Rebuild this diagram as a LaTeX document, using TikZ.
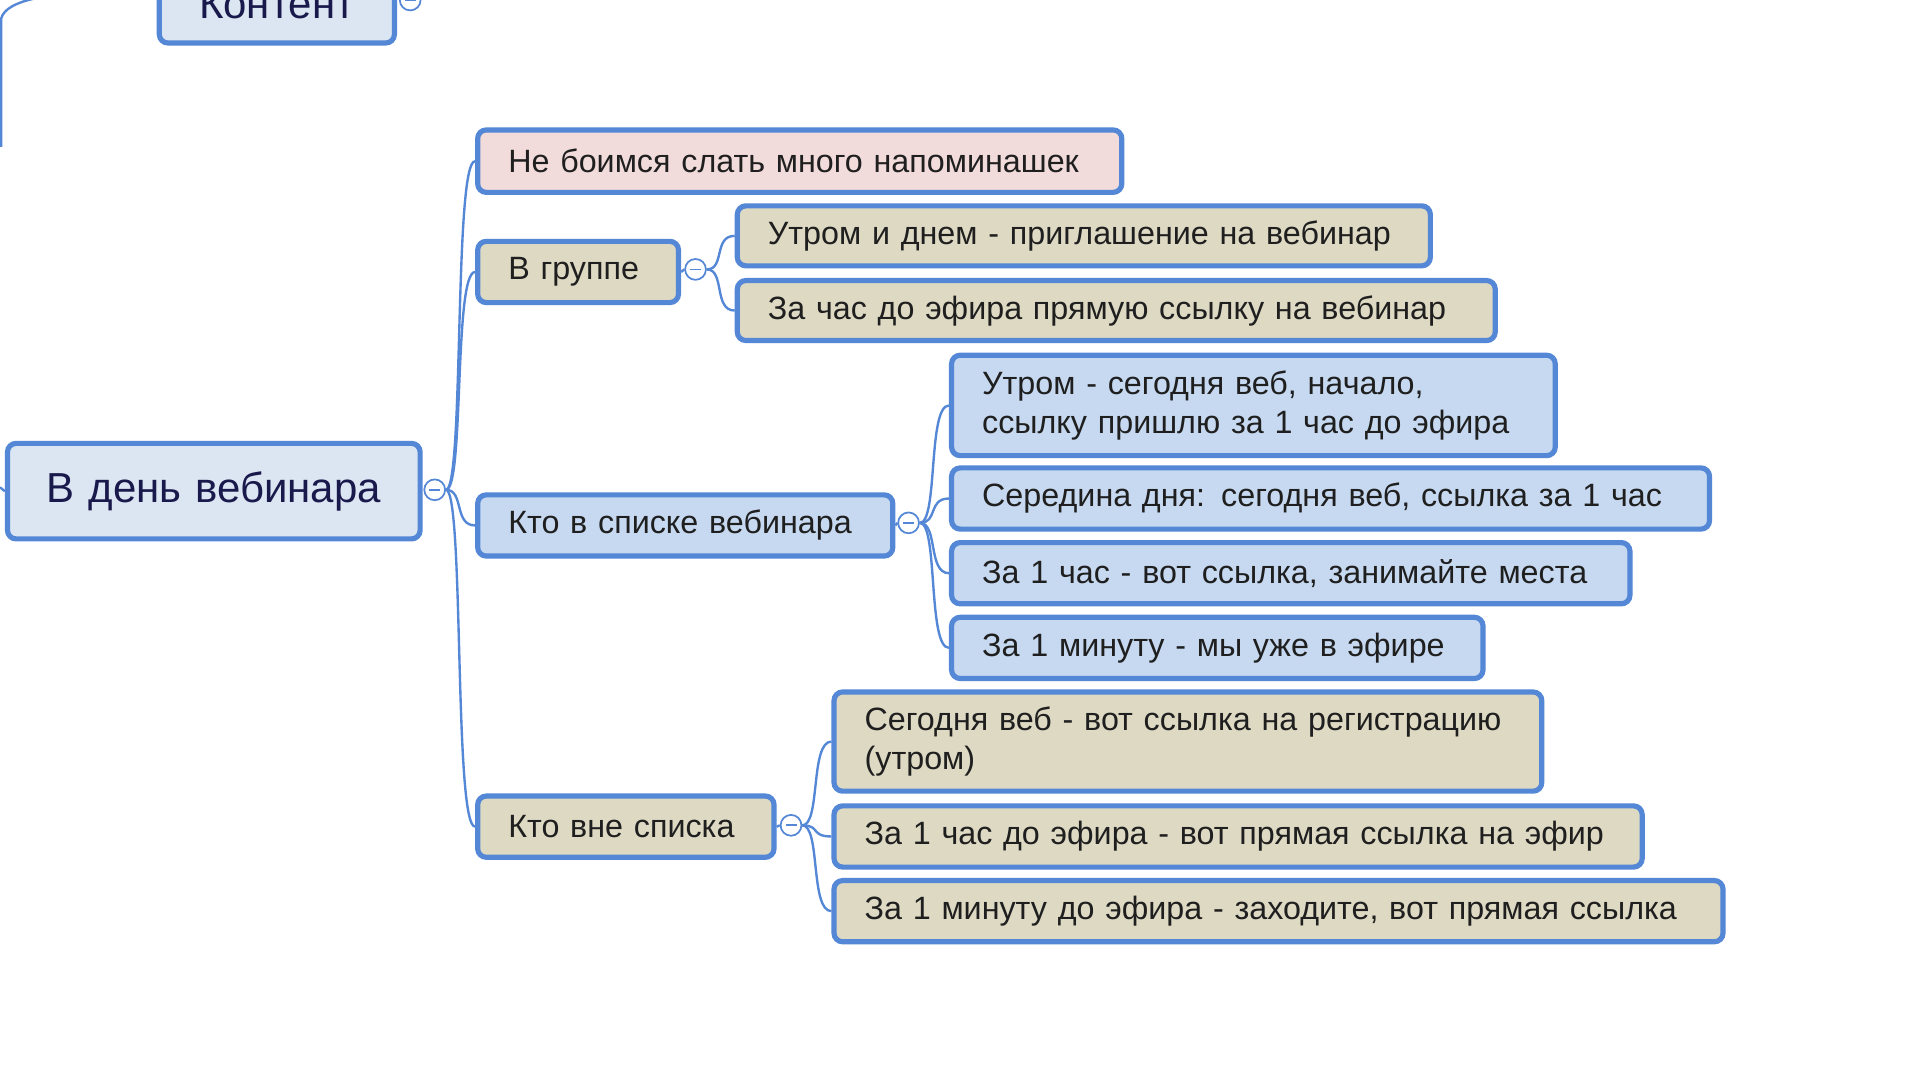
\documentclass[tikz,border=0pt]{standalone}
\usepackage{fontspec}
\setmainfont{Liberation Sans}
\definecolor{edge}{HTML}{5487D6}
\definecolor{blu}{HTML}{C6D9F0}
\definecolor{tan}{HTML}{DDD9C3}
\definecolor{pnk}{HTML}{F2DCDB}
\definecolor{rootfill}{HTML}{DCE6F2}
\definecolor{ink}{HTML}{1F1F1F}
\tikzset{
  topic/.style={draw=edge, line width=2.4pt, rounded corners=4pt, anchor=north west, text=ink,
    align=left, inner xsep=0.5cm, font=\fontsize{15}{18}\selectfont},
  bigtopic/.style={topic, align=center, inner xsep=0.1cm, text=ink!80!blue, font=\fontsize{19.5}{23}\selectfont},
  conn/.style={draw=edge, line width=1.1pt},
  fold/.style={circle, draw=edge, line width=0.8pt, fill=white, minimum size=0.34cm, inner sep=0pt,
    path picture={\draw[edge, line width=0.8pt] ([xshift=-0.09cm]path picture bounding box.center) -- ([xshift=0.09cm]path picture bounding box.center);}}
}
\begin{document}
\begin{tikzpicture}
\useasboundingbox (0,0) rectangle (31.36,-17.64);
\clip (0,0) rectangle (31.36,-17.64);
\fill[white] (0,0) rectangle (31.36,-17.64);

% upper branch, cut off
\draw[conn] (0.02,-2.4) -- (0.02,-0.3) .. controls (0.1,0) and (0.8,0.1) .. (1.4,0.1);
\node[bigtopic, fill=rootfill, minimum height=1.26cm, text width=3.64cm]
  (kontent) at (2.56,0.6) {Контент};
\node[fold] (kontentfold) at (6.7,0) {};

% root
\node[bigtopic, fill=rootfill, minimum height=1.56cm, text width=6.54cm]
  (root) at (0.08,-7.2) {В день вебинара};
\draw[conn] (0,-7.96) -- (root.west);
\node[fold] (rootfold) at (7.1,-8) {};

% first level
\node[topic, fill=pnk, minimum height=1.02cm, text width=9.52cm] (fear) at (7.76,-2.08) {Не боимся слать много напоминашек};
\node[topic, fill=tan, minimum height=1.0cm, text width=2.28cm] (group) at (7.76,-3.9) {В группе};
\node[topic, fill=blu, minimum height=1.0cm, text width=5.78cm] (inlist) at (7.76,-8.04) {Кто в списке вебинара};
\node[topic, fill=tan, minimum height=1.0cm, text width=3.84cm] (outlist) at (7.76,-12.96) {Кто вне списка};

\foreach \n in {fear,group,inlist,outlist}
  \draw[conn] (rootfold.east) .. controls ++(0.3,0) and ([xshift=-0.35cm]\n.west) .. (\n.west);

% in group
\node[fold] (groupfold) at (11.36,-4.4) {};
\node[topic, fill=tan, minimum height=0.98cm, text width=10.32cm] (morning) at (12,-3.32) {Утром и днем - приглашение на вебинар};
\node[topic, fill=tan, minimum height=0.98cm, text width=11.38cm] (hour) at (12,-4.54) {За час до эфира прямую ссылку на вебинар};
\draw[conn] (group.east) -- (groupfold.west);
\foreach \n in {morning,hour}
  \draw[conn] (groupfold.east) .. controls ++(0.3,0) and ([xshift=-0.35cm]\n.west) .. (\n.west);

% in list
\node[fold] (inlistfold) at (14.84,-8.54) {};
\node[topic, fill=blu, minimum height=1.64cm, text width=8.86cm] (lmorning) at (15.5,-5.76) {Утром - сегодня веб, начало,\\ссылку пришлю за 1 час до эфира};
\node[topic, fill=blu, minimum height=1.0cm, text width=11.38cm] (lmid) at (15.5,-7.6) {Середина дня: сегодня веб, ссылка за 1 час};
\node[topic, fill=blu, minimum height=1.0cm, text width=10.08cm] (lhour) at (15.5,-8.82) {За 1 час - вот ссылка, занимайте места};
\node[topic, fill=blu, minimum height=1.0cm, text width=7.68cm] (lminute) at (15.5,-10.04) {За 1 минуту - мы уже в эфире};
\draw[conn] (inlist.east) -- (inlistfold.west);
\foreach \n in {lmorning,lmid,lhour,lminute}
  \draw[conn] (inlistfold.east) .. controls ++(0.3,0) and ([xshift=-0.35cm]\n.west) .. (\n.west);

% out of list
\node[fold] (outlistfold) at (12.92,-13.48) {};
\node[topic, fill=tan, minimum height=1.62cm, text width=10.56cm] (oreg) at (13.58,-11.26) {Сегодня веб - вот ссылка на регистрацию\\(утром)};
\node[topic, fill=tan, minimum height=1.0cm, text width=12.2cm] (ohour) at (13.58,-13.12) {За 1 час до эфира - вот прямая ссылка на эфир};
\node[topic, fill=tan, minimum height=1.0cm, text width=13.52cm] (ominute) at (13.58,-14.34) {За 1 минуту до эфира - заходите, вот прямая ссылка};
\draw[conn] (outlist.east) -- (outlistfold.west);
\foreach \n in {oreg,ohour,ominute}
  \draw[conn] (outlistfold.east) .. controls ++(0.3,0) and ([xshift=-0.35cm]\n.west) .. (\n.west);
\end{tikzpicture}
\end{document}
